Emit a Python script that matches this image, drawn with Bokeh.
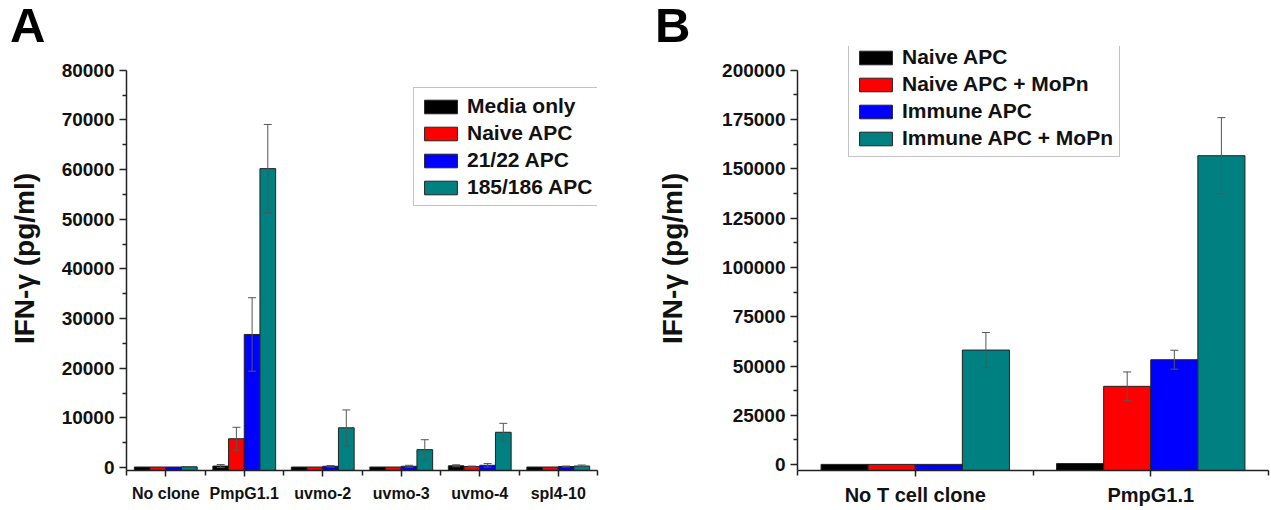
from bokeh.plotting import figure
from bokeh.models import (ColumnDataSource, Whisker, FixedTicker, NumeralTickFormatter,
                          Legend, LegendItem, TeeHead, Range1d, Div)
from bokeh.layouts import row, column
from bokeh.embed import file_html
from bokeh.resources import INLINE

FONT = "Liberation Sans"

# ---------------- Panel A data ----------------
a_categories = ["No clone", "PmpG1.1", "uvmo-2", "uvmo-3", "uvmo-4", "spl4-10"]
a_series = ["Media only", "Naive APC", "21/22 APC", "185/186 APC"]
a_media = [100, 300, 100, 100, 350, 100]
a_naive = [100, 5800, 100, 100, 200, 100]
a_2122 = [100, 26800, 250, 250, 450, 200]
a_185 = [150, 60200, 8000, 3600, 7100, 300]
a_media_err = [0, 300, 0, 0, 200, 0]
a_naive_err = [0, 2300, 0, 0, 100, 0]
a_2122_err = [0, 7400, 150, 200, 350, 100]
a_185_err = [0, 8900, 3600, 2000, 1800, 200]
a_yticks = [0, 10000, 20000, 30000, 40000, 50000, 60000, 70000, 80000]
a_yminor = [5000, 15000, 25000, 35000, 45000, 55000, 65000, 75000]

# ---------------- Panel B data ----------------
b_categories = ["No T cell clone", "PmpG1.1"]
b_series = ["Naive APC", "Naive APC + MoPn", "Immune APC", "Immune APC + MoPn"]
b_naive = [100, 500]
b_naive_mopn = [100, 39700]
b_immune = [100, 53200]
b_immune_mopn = [58100, 156700]
b_naive_err = [0, 0]
b_naive_mopn_err = [0, 7300]
b_immune_err = [0, 4800]
b_immune_mopn_err = [8900, 19300]
b_yticks = [0, 25000, 50000, 75000, 100000, 125000, 150000, 175000, 200000]
b_yminor = [12500, 37500, 62500, 87500, 112500, 137500, 162500, 187500]

COLORS = ["#000000", "#ff0000", "#0000ff", "#008080"]
OFFSETS = [-0.3, -0.1, 0.1, 0.3]

TOP_H = 46          # height of the strip holding the panel letters
FIG_H = 508 - TOP_H


def make_panel(categories, series, values, errors, yticks, yminor, yrange, ybounds,
               width, borders, tick_font, cat_font, cat_standoff, legend_font, legend_loc,
               label_standoff):
    n = len(categories)
    left, right, top, bottom = borders
    p = figure(width=width, height=FIG_H, output_backend="svg", toolbar_location=None,
               x_range=Range1d(0.5, n + 0.5), y_range=Range1d(*yrange),
               min_border_left=left, min_border_right=right,
               min_border_top=top, min_border_bottom=bottom)
    p.outline_line_color = None
    p.xgrid.visible = False
    p.ygrid.visible = False
    p.background_fill_color = "white"
    p.border_fill_color = "white"
    p.title.visible = False

    items = []
    for k, (name, vals, errs) in enumerate(zip(series, values, errors)):
        xs = [i + 1 + OFFSETS[k] for i in range(n)]
        src = ColumnDataSource(dict(x=xs, top=vals))
        r = p.vbar(x="x", top="top", bottom=yrange[0], width=0.2, source=src,
                   fill_color=COLORS[k], line_color="#222222", line_width=1)
        items.append(LegendItem(label=name, renderers=[r]))
        ex = [x for x, e in zip(xs, errs) if e > 0]
        eu = [v + e for v, e in zip(vals, errs) if e > 0]
        el = [v - e for v, e in zip(vals, errs) if e > 0]
        if ex:
            esrc = ColumnDataSource(dict(x=ex, upper=eu, lower=el))
            w = Whisker(base="x", upper="upper", lower="lower", source=esrc,
                        line_color="#555555", line_width=1, level="overlay",
                        upper_head=TeeHead(size=8, line_color="#555555", line_width=1),
                        lower_head=TeeHead(size=8, line_color="#555555", line_width=1))
            p.add_layout(w)

    # x axis
    xa = p.xaxis[0]
    xa.ticker = FixedTicker(ticks=[i + 1 for i in range(n)],
                            minor_ticks=[i + 0.5 for i in range(n + 1)])
    xa.major_label_overrides = {i + 1: c for i, c in enumerate(categories)}
    xa.major_label_text_font = FONT
    xa.major_label_text_font_style = "bold"
    xa.major_label_text_font_size = cat_font
    xa.major_label_text_color = "#111111"
    xa.major_tick_out = 6
    xa.major_tick_in = 0
    xa.minor_tick_out = 5
    xa.minor_tick_in = 0
    xa.major_label_standoff = cat_standoff
    xa.axis_line_width = 1.5
    xa.axis_line_color = "#222222"
    xa.major_tick_line_color = "#222222"
    xa.minor_tick_line_color = "#222222"
    xa.major_tick_line_width = 1.5
    xa.minor_tick_line_width = 1.5

    # y axis
    ya = p.yaxis[0]
    ya.ticker = FixedTicker(ticks=yticks, minor_ticks=yminor)
    ya.bounds = ybounds
    ya.formatter = NumeralTickFormatter(format="0")
    ya.major_label_text_font = FONT
    ya.major_label_text_font_style = "bold"
    ya.major_label_text_font_size = tick_font
    ya.major_label_text_color = "#111111"
    ya.major_tick_out = 7
    ya.major_tick_in = 0
    ya.minor_tick_out = 4
    ya.minor_tick_in = 0
    ya.major_label_standoff = 5
    ya.axis_line_width = 1.5
    ya.axis_line_color = "#222222"
    ya.major_tick_line_color = "#222222"
    ya.minor_tick_line_color = "#222222"
    ya.major_tick_line_width = 1.5
    ya.minor_tick_line_width = 1.5
    ya.axis_label = "IFN-\u03b3 (pg/ml)"
    ya.axis_label_text_font = FONT
    ya.axis_label_text_font_style = "bold"
    ya.axis_label_text_font_size = "28px"
    ya.axis_label_text_color = "#111111"
    ya.axis_label_standoff = label_standoff

    legend = Legend(items=items, location=legend_loc)
    legend.label_text_font = FONT
    legend.label_text_font_style = "bold"
    legend.label_text_font_size = legend_font
    legend.label_text_color = "#111111"
    legend.glyph_width = 41
    legend.glyph_height = 17
    legend.label_height = 22
    legend.label_standoff = 6
    legend.spacing = 3
    legend.padding = 6
    legend.margin = 0
    legend.border_line_color = "#888888"
    legend.border_line_width = 1.5
    legend.background_fill_color = "white"
    legend.background_fill_alpha = 1
    p.add_layout(legend)
    return p


def letter_div(letter, width, pad_left):
    html = ('<div style="font-family:\'Liberation Sans\';font-weight:bold;font-size:49px;'
            'line-height:42px;height:42px;padding:4px 0 0 %dpx;margin:0;color:#000;">%s</div>'
            % (pad_left, letter))
    return Div(text=html, width=width, height=TOP_H, margin=0)


# frames reach above the top tick so the legend of B fits inside; axis bounds stop the line
pa = make_panel(a_categories, a_series,
                [a_media, a_naive, a_2122, a_185],
                [a_media_err, a_naive_err, a_2122_err, a_185_err],
                a_yticks, a_yminor, (-600, 84800), (-600, 80000),
                640, (126, 43, 0, 36), "19px", "16px", 8, "21px", (287, 264), 19)

pb = make_panel(b_categories, b_series,
                [b_naive, b_naive_mopn, b_immune, b_immune_mopn],
                [b_naive_err, b_naive_mopn_err, b_immune_err, b_immune_mopn_err],
                b_yticks, b_yminor, (-3000, 212100), (-3000, 200000),
                630, (157, 2, 0, 36), "19px", "20px", 7, "21px", (51, 313), 31)

layout = column(row(letter_div("A", 640, 10), letter_div("B", 630, 15)), row(pa, pb))
open("out.html", "w").write(file_html(layout, INLINE))
